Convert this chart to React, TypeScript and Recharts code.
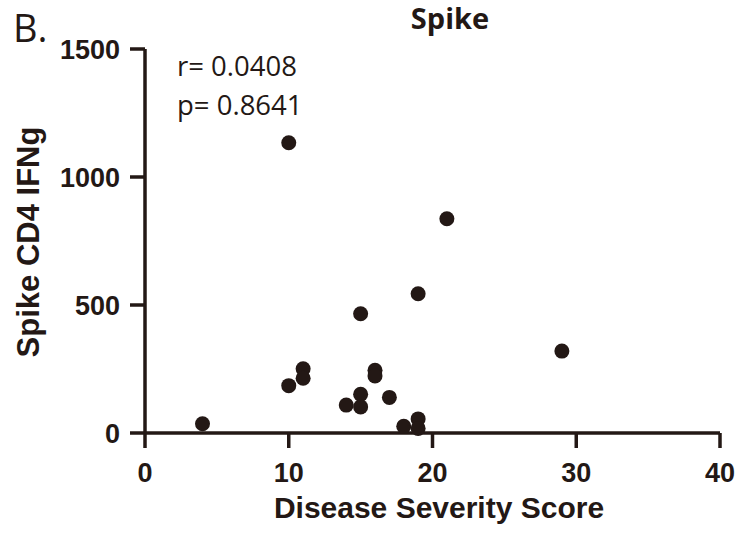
import React from 'react';
import { ScatterChart, Scatter, XAxis, YAxis } from 'recharts';

const severityScore = [4, 10, 10, 11, 11, 14, 15, 15, 15, 16, 16, 17, 18, 19, 19, 19, 21, 29];
const cd4Ifng = [36, 1134, 185, 251, 214, 109, 466, 151, 102, 245, 223, 139, 26, 544, 55, 18, 837, 320];
const xTicks = [0, 10, 20, 30, 40];
const yTicks = [0, 500, 1000, 1500];

const points = severityScore.map((x, i) => ({ x, y: cd4Ifng[i] }));

const ink = '#231815';
const arial = '"Liberation Sans", Arial, sans-serif';
const sans = '"Open Sans", sans-serif';

const Dot = (props: any) => <circle cx={props.cx} cy={props.cy} r={7.5} fill={ink} />;

export default function App() {
    return (
        <div style={{ position: 'absolute', left: 0, top: 0, background: '#fff' }}>
            <ScatterChart width={742} height={534} margin={{ top: 49, right: 22, bottom: 0, left: 0 }}>
                <XAxis
                    type="number"
                    dataKey="x"
                    domain={[0, 40]}
                    ticks={xTicks}
                    height={101}
                    stroke={ink}
                    strokeWidth={3.5}
                    tickSize={15}
                    tickMargin={15}
                    tick={{ fill: ink, fontSize: 27, fontWeight: 'bold', fontFamily: arial }}
                />
                <YAxis
                    type="number"
                    dataKey="y"
                    domain={[0, 1500]}
                    ticks={yTicks}
                    width={145}
                    stroke={ink}
                    strokeWidth={3.5}
                    tickSize={15}
                    tickMargin={10}
                    tick={{ fill: ink, fontSize: 27, fontWeight: 'bold', fontFamily: arial }}
                />
                <Scatter data={points} fill={ink} shape={Dot} isAnimationActive={false} />
                <text x={13} y={42} fontSize={38} fontFamily={sans} fill={ink}>B.</text>
                <text x={450} y={29} textAnchor="middle" fontSize={29} fontWeight="bold" fontFamily={sans} fill={ink}>Spike</text>
                <text x={177} y={76} fontSize={27.5} fontFamily={sans} fill={ink}>r= 0.0408</text>
                <text x={177} y={115} fontSize={27.5} fontFamily={sans} fill={ink}>p= 0.8641</text>
                <text x={439} y={518} textAnchor="middle" fontSize={30} fontWeight="bold" fontFamily={arial} fill={ink}>Disease Severity Score</text>
                <text transform="translate(39,242) rotate(-90)" textAnchor="middle" fontSize={31} fontWeight="bold" fontFamily={arial} fill={ink}>Spike CD4 IFNg</text>
            </ScatterChart>
        </div>
    );
}
